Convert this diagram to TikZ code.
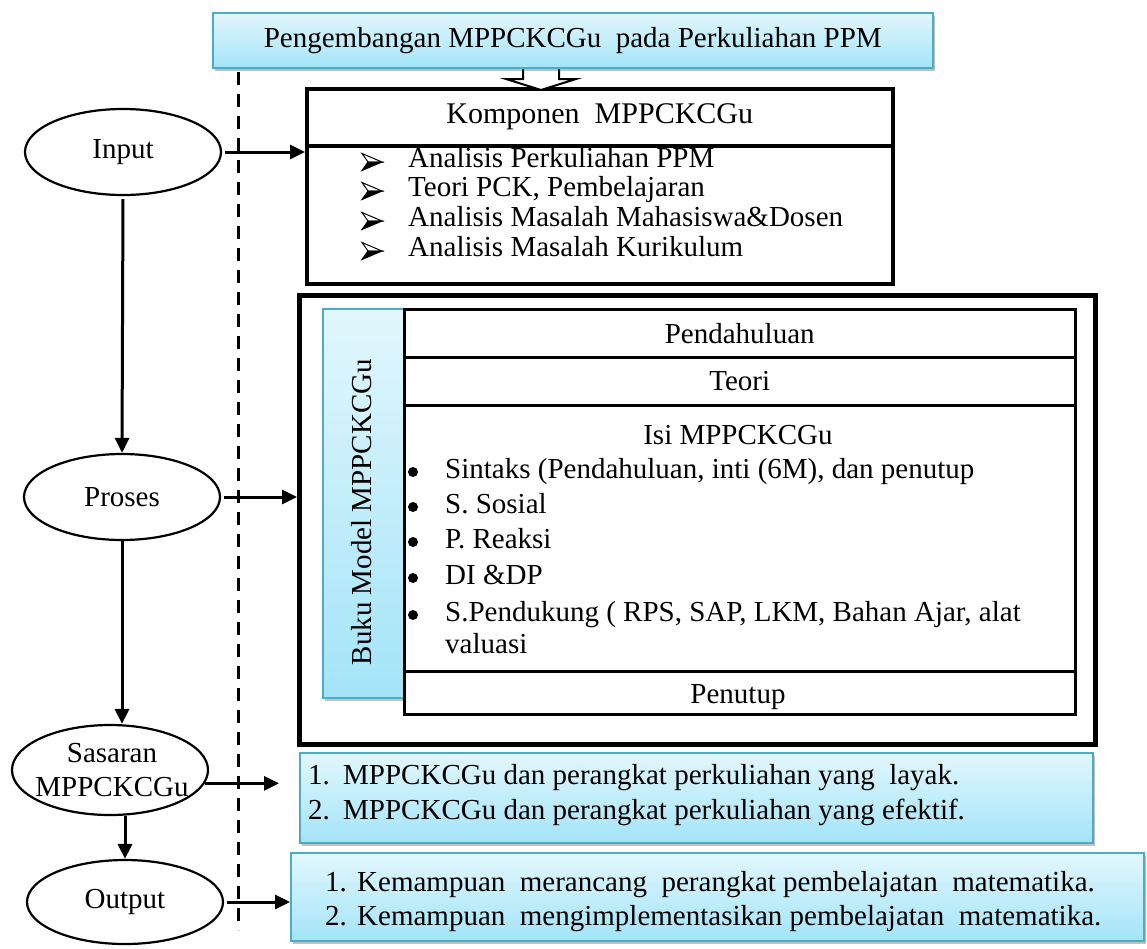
\documentclass[tikz,border=0pt]{standalone}
\usepackage{fontspec}
\setmainfont{Liberation Serif}
\usetikzlibrary{shadows,arrows.meta,shapes.geometric}

\definecolor{skytop}{HTML}{E2F7FD}
\definecolor{skybot}{HTML}{A3E4F8}
\definecolor{skyline}{HTML}{4BACC6}

\tikzset{
  skybox/.style={draw=skyline, line width=1.5pt, top color=skytop, bottom color=skybot,
    drop shadow={shadow xshift=2.5pt, shadow yshift=-3pt, opacity=.35, fill=black!70},
    inner sep=0pt, anchor=north west},
  frame/.style={draw, inner sep=0pt, anchor=north west},
  oval/.style={ellipse, draw, line width=2.2pt, inner sep=0pt,
    minimum width=196pt, minimum height=86pt},
  arr/.style={line width=3pt, -{Triangle[length=15pt,width=14pt]}},
  txt/.style={inner sep=0pt, anchor=mid west},
  roundbullet/.style={circle, fill, inner sep=0pt, minimum size=10pt},
}

% three-dimensional arrowhead bullet: light upper half, black lower half
\newcommand{\wingarrow}[1]{%
  \begin{scope}[shift={(#1)}]
    \filldraw[fill=white, line width=1pt, line join=miter] (-10,-8.5) -- (10,0) -- (-4,0) -- cycle;
    \filldraw[line width=1pt, line join=miter] (-4,0) -- (10,0) -- (-10,8.5) -- cycle;
  \end{scope}}

\begin{document}
\begin{tikzpicture}[x=1pt, y=-1pt, font=\fontsize{29}{34}\selectfont]
\useasboundingbox (0,0) rectangle (1147,948);

% dashed divider between the stages and their contents
\coordinate (dtop) at (238,72);
\coordinate (dbot) at (238,930);
\draw[line width=3pt, dash pattern=on 13pt off 9pt] (dtop) -- (dbot);

% component box: header and list
\node[frame, line width=3.5pt, minimum width=586pt, minimum height=57pt] (khead) at (305,87)
  {\fontsize{30}{34}\selectfont Komponen\ \ MPPCKCGu};
\node[frame, line width=3.5pt, minimum width=586pt, minimum height=138pt] (kbody) at (305,144) {};
\coordinate (kb1) at (372,162);
\coordinate (kb2) at (372,191);
\coordinate (kb3) at (372,221);
\coordinate (kb4) at (372,251);
\wingarrow{kb1}
\wingarrow{kb2}
\wingarrow{kb3}
\wingarrow{kb4}
\node[txt] (k1) at (408,165) {Analisis Perkuliahan PPM};
\node[txt] (k2) at (408,194) {Teori PCK, Pembelajaran};
\node[txt] (k3) at (408,224) {Analisis Masalah Mahasiswa\&Dosen};
\node[txt] (k4) at (408,254) {Analisis Masalah Kurikulum};

% hollow block arrow from the title into the component box
\draw[line width=2pt, fill=white] (523,66) -- (523,79) -- (506,79) -- (541,90)
  -- (576,79) -- (559,79) -- (559,66);

% title
\node[skybox, minimum width=720pt, minimum height=55pt] (title) at (212,12)
  {Pengembangan MPPCKCGu\ \ pada Perkuliahan PPM};

% model book frame
\node[frame, line width=5pt, minimum width=796pt, minimum height=449pt] (big) at (297,293) {};
\node[skybox, minimum width=81pt, minimum height=389pt] (buku) at (322,308) {};
\node[rotate=90, inner sep=0pt] (bukutxt) at (362,512) {Buku Model MPPCKCGu};
\node[frame, line width=2.5pt, minimum width=671pt, minimum height=48pt] (rpend) at (403,308) {Pendahuluan};
\node[frame, line width=2.5pt, minimum width=671pt, minimum height=48pt] (rteori) at (403,356) {Teori};
\node[frame, line width=3pt, minimum width=671pt, minimum height=266pt] (risi) at (403,404) {};
\node[frame, line width=2.5pt, minimum width=671pt, minimum height=43pt] (rtutup) at (403,670) {};
\node[inner sep=0pt] (tutup) at (738,697) {Penutup};
\node[inner sep=0pt] (isi) at (738,435) {Isi MPPCKCGu};
\node[roundbullet] (ib1) at (413,472) {};
\node[roundbullet] (ib2) at (413,507) {};
\node[roundbullet] (ib3) at (413,542) {};
\node[roundbullet] (ib4) at (413,578) {};
\node[roundbullet] (ib5) at (413,615) {};
\node[txt] (i1) at (445,476) {Sintaks (Pendahuluan, inti (6M), dan penutup};
\node[txt] (i2) at (445,511) {S. Sosial};
\node[txt] (i3) at (445,546) {P. Reaksi};
\node[txt] (i4) at (445,582) {DI \&DP};
\node[txt] (i5) at (445,619) {S.Pendukung ( RPS, SAP, LKM, Bahan Ajar, alat};
\node[txt] (i6) at (445,651) {valuasi};

% targets
\node[skybox, minimum width=793pt, minimum height=90pt] (box1) at (299,752) {};
\node[txt] (s1n) at (308,782) {1.};
\node[txt] (s1) at (343,782) {MPPCKCGu dan perangkat perkuliahan yang\ \ layak.};
\node[txt] (s2n) at (308,817) {2.};
\node[txt] (s2) at (343,817) {MPPCKCGu dan perangkat perkuliahan yang efektif.};

% outputs
\node[skybox, minimum width=853pt, minimum height=88pt] (box2) at (290,852) {};
\node[txt] (o1n) at (325,889) {1.};
\node[txt] (o1) at (357,889) {Kemampuan\ \ merancang\ \ perangkat pembelajatan\ \ matematika.};
\node[txt] (o2n) at (325,923) {2.};
\node[txt] (o2) at (357,923) {Kemampuan\ \ mengimplementasikan pembelajatan\ \ matematika.};

% stages
\node[oval] (inp) at (123,152) {Input};
\node[oval] (pro) at (122,497) {Proses};
\node[oval, minimum height=90pt] (sas) at (110,770) {};
\node[align=center, inner sep=0pt] (sastxt) at (112,770) {Sasaran\\MPPCKCGu};
\node[oval, minimum height=84pt] (out) at (125,902) {Output};

% connectors
\draw[arr, shorten <=3pt] (inp.south) -- (pro.north);
\draw[arr] (pro.south) -- (pro.south |- sas.north);
\draw[arr] (sas.south -| out.north) -- (out.north);
\draw[arr, shorten <=3pt] (inp.east) -- (inp.east -| kbody.west);
\draw[arr, shorten <=3pt] (pro.east) -- (pro.east -| big.west);
\draw[arr, shorten >=20pt] (sas.-8) -- (sas.-8 -| box1.west);
\draw[arr, shorten <=3pt] (out.east) -- (out.east -| box2.west);
\end{tikzpicture}
\end{document}
